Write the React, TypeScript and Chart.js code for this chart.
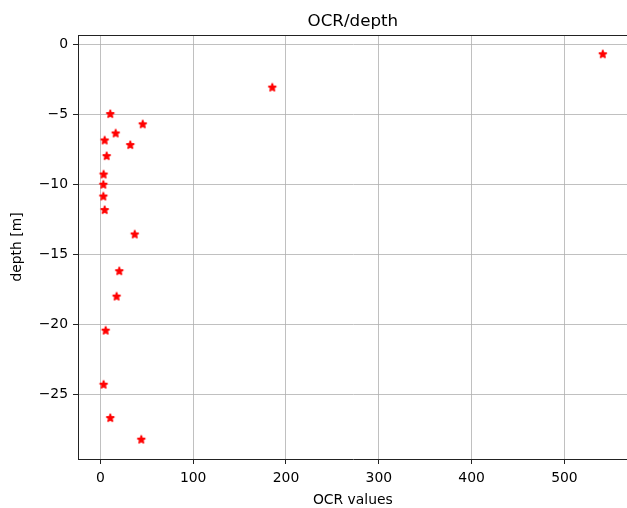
import React, { useEffect, useRef } from "react";
import { Chart, registerables } from "chart.js";

Chart.register(...registerables);

// OCR values (x) and depths (y)
const ocrValues = [541.3, 185.2, 10.7, 45.6, 16.5, 4.6, 32.2, 6.8, 3.5, 3.2, 3.2, 4.6, 37.0, 20.4, 17.5, 5.7, 3.5, 10.7, 44.1];
const depths = [-0.71, -3.09, -4.98, -5.71, -6.36, -6.86, -7.19, -7.98, -9.29, -10.02, -10.86, -11.83, -13.57, -16.19, -18.0, -20.43, -24.29, -26.67, -28.21];

const xTicks = [0, 100, 200, 300, 400, 500];
const yTicks = [0, -5, -10, -15, -20, -25];
const xRange = [-24.1, 568.5];
const yRange = [-29.59, 0.665];

const titleText = "OCR/depth";
const xTitle = "OCR values";
const yTitle = "depth [m]";

const FONT = '"DejaVu Sans", sans-serif';

function makeStar(): HTMLCanvasElement {
  const c = document.createElement("canvas");
  c.width = 14;
  c.height = 14;
  const ctx = c.getContext("2d")!;
  const R = 4.17;
  const r = R * 0.381966;
  ctx.beginPath();
  for (let i = 0; i < 10; i++) {
    const rad = i % 2 === 0 ? R : r;
    const a = -Math.PI / 2 + (i * Math.PI) / 5;
    const x = 7 + rad * Math.cos(a);
    const y = 7 + rad * Math.sin(a);
    if (i === 0) ctx.moveTo(x, y);
    else ctx.lineTo(x, y);
  }
  ctx.closePath();
  ctx.fillStyle = "#ff0000";
  ctx.fill();
  ctx.lineWidth = 1.39;
  ctx.lineJoin = "bevel";
  ctx.strokeStyle = "#ff0000";
  ctx.stroke();
  return c;
}

const framePlugin = {
  id: "frameAndTitles",
  afterDraw(chart: any) {
    const { ctx, chartArea: a } = chart;
    ctx.save();
    ctx.strokeStyle = "#222";
    ctx.lineWidth = 1;
    ctx.beginPath();
    ctx.moveTo(a.left, a.top + 0.5);
    ctx.lineTo(a.right, a.top + 0.5);
    ctx.stroke();

    const cx = (a.left + 627.7) / 2;
    ctx.fillStyle = "#000";
    ctx.textAlign = "center";
    ctx.textBaseline = "alphabetic";
    ctx.font = `16.7px ${FONT}`;
    ctx.fillText(titleText, cx, 25.5);

    ctx.font = `13.9px ${FONT}`;
    ctx.fillText(xTitle, cx, 503.5);

    ctx.translate(20.5, (a.top + a.bottom) / 2);
    ctx.rotate(-Math.PI / 2);
    ctx.fillText(yTitle, 0, 0);
    ctx.restore();
  },
};

const fmt = (v: number) => String(v).replace("-", "\u2212");

export default function App() {
  const ref = useRef<HTMLCanvasElement | null>(null);

  useEffect(() => {
    document.body.style.margin = "0";
    document.body.style.overflow = "hidden";
    if (!ref.current) return;
    const star = makeStar();
    const chart = new Chart(ref.current, {
      type: "scatter",
      data: {
        datasets: [
          {
            data: ocrValues.map((x, i) => ({ x, y: depths[i] })),
            pointStyle: star as any,
            pointRadius: 5,
            pointHoverRadius: 5,
            showLine: false,
          },
        ],
      },
      options: {
        animation: false,
        responsive: false,
        devicePixelRatio: 1,
        layout: { autoPadding: false, padding: { top: 35, right: 12, left: 0, bottom: 0 } },
        plugins: {
          legend: { display: false },
          tooltip: { enabled: false },
          title: { display: false },
        },
        scales: {
          x: {
            type: "linear",
            min: xRange[0],
            max: xRange[1],
            afterBuildTicks: (s: any) => {
              s.ticks = xTicks.map((v) => ({ value: v }));
            },
            afterFit: (s: any) => {
              s.height = 49;
              s.paddingLeft = 0;
              s.paddingRight = 0;
            },
            ticks: {
              callback: (v: any) => fmt(Number(v)),
              font: { family: FONT, size: 13.9 },
              color: "#000",
              padding: 6,
              maxRotation: 0,
              autoSkip: false,
            },
            grid: {
              color: "#b0b0b0",
              lineWidth: 0.8,
              drawTicks: true,
              tickLength: 5,
              tickColor: "#222",
              tickWidth: 1,
            },
            border: { display: true, color: "#222", width: 1 },
          },
          y: {
            type: "linear",
            min: yRange[0],
            max: yRange[1],
            afterBuildTicks: (s: any) => {
              s.ticks = yTicks.map((v) => ({ value: v }));
            },
            afterFit: (s: any) => {
              s.width = 78;
              s.paddingTop = 0;
              s.paddingBottom = 0;
            },
            ticks: {
              callback: (v: any) => fmt(Number(v)),
              font: { family: FONT, size: 13.9 },
              color: "#000",
              padding: 5,
              autoSkip: false,
            },
            grid: {
              color: "#b0b0b0",
              lineWidth: 0.8,
              drawTicks: true,
              tickLength: 5,
              tickColor: "#222",
              tickWidth: 1,
            },
            border: { display: true, color: "#222", width: 1 },
          },
        },
      },
      plugins: [framePlugin],
    });
    return () => chart.destroy();
  }, []);

  return (
    <div style={{ position: "fixed", left: 0, top: 0, width: 627, height: 508, overflow: "hidden", background: "#fff" }}>
      <canvas ref={ref} width={640} height={508} style={{ display: "block" }} />
    </div>
  );
}
